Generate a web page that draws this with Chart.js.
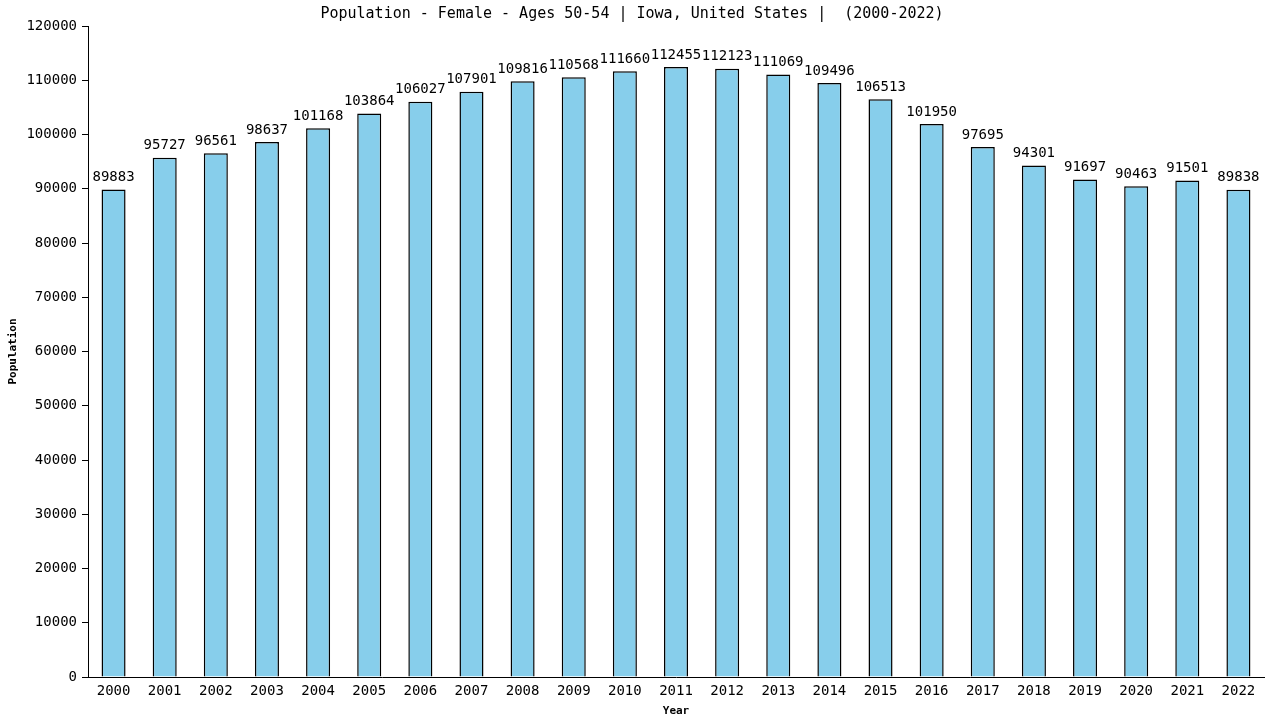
<!DOCTYPE html>
<html>
<head>
<meta charset="utf-8">
<script src="https://cdn.jsdelivr.net/npm/chart.js@4.4.0/dist/chart.umd.min.js"></script>
<style>
html,body{margin:0;padding:0;background:#fff;}
#wrap{width:1280px;height:720px;position:relative;}
</style>
</head>
<body>
<div id="wrap"><canvas id="c" width="1280" height="720"></canvas></div>
<script>
const years = ["2000","2001","2002","2003","2004","2005","2006","2007","2008","2009","2010","2011","2012","2013","2014","2015","2016","2017","2018","2019","2020","2021","2022"];
const population = [89883,95727,96561,98637,101168,103864,106027,107901,109816,110568,111660,112455,112123,111069,109496,106513,101950,97695,94301,91697,90463,91501,89838];
const titleText = "Population - Female - Ages 50-54 | Iowa, United States |  (2000-2022)";
const yTitle = "Population";
const xTitle = "Year";

const MONO = "'DejaVu Sans Mono', monospace";

const valueLabels = {
  id: 'valueLabels',
  afterDatasetsDraw(chart) {
    const ctx = chart.ctx;
    const meta = chart.getDatasetMeta(0);
    ctx.save();
    ctx.font = "14px " + MONO;
    ctx.fillStyle = "#000";
    ctx.textAlign = "center";
    ctx.textBaseline = "bottom";
    meta.data.forEach((bar, i) => {
      ctx.fillText(String(population[i]), bar.x, bar.y - 5);
    });
    ctx.restore();
  }
};

Chart.defaults.font.family = MONO;
Chart.defaults.color = "#000";

new Chart(document.getElementById('c'), {
  type: 'bar',
  data: {
    labels: years,
    datasets: [{
      data: population,
      backgroundColor: '#87CEEB',
      borderColor: '#000',
      borderWidth: 1.5,
      borderSkipped: 'start',
      barPercentage: 0.47,
      categoryPercentage: 1.0
    }]
  },
  options: {
    responsive: false,
    animation: false,
    devicePixelRatio: 1,
    layout: { padding: { left: 0, right: 16, top: 0, bottom: 0 } },
    plugins: {
      legend: { display: false },
      tooltip: { enabled: false },
      title: {
        display: true,
        text: titleText,
        font: { family: MONO, size: 15, weight: 'normal' },
        color: '#000',
        padding: { top: 5, bottom: 3 }
      }
    },
    scales: {
      x: {
        grid: { display: true, drawOnChartArea: false, drawTicks: false },
        border: { display: true, color: '#000', width: 1 },
        ticks: { font: { family: MONO, size: 14 }, color: '#000', padding: 6, maxRotation: 0, autoSkip: false },
        title: { display: true, text: xTitle, font: { family: MONO, size: 11, weight: 'bold' }, color: '#000', padding: { top: 2, bottom: 2 } },
        afterFit(scale) { scale.height = 43; }
      },
      y: {
        min: 0, max: 120000,
        grid: { display: true, drawOnChartArea: false, drawTicks: true, tickLength: 6, color: '#000' },
        border: { display: true, color: '#000', width: 1 },
        ticks: { stepSize: 10000, font: { family: MONO, size: 14 }, color: '#000', padding: 5,
                 callback: (v) => String(v) },
        title: { display: true, text: yTitle, font: { family: MONO, size: 11, weight: 'bold' }, color: '#000', padding: { top: 7, bottom: 0 } },
        afterFit(scale) { scale.width = 88; }
      }
    }
  },
  plugins: [valueLabels]
});
</script>
</body>
</html>
